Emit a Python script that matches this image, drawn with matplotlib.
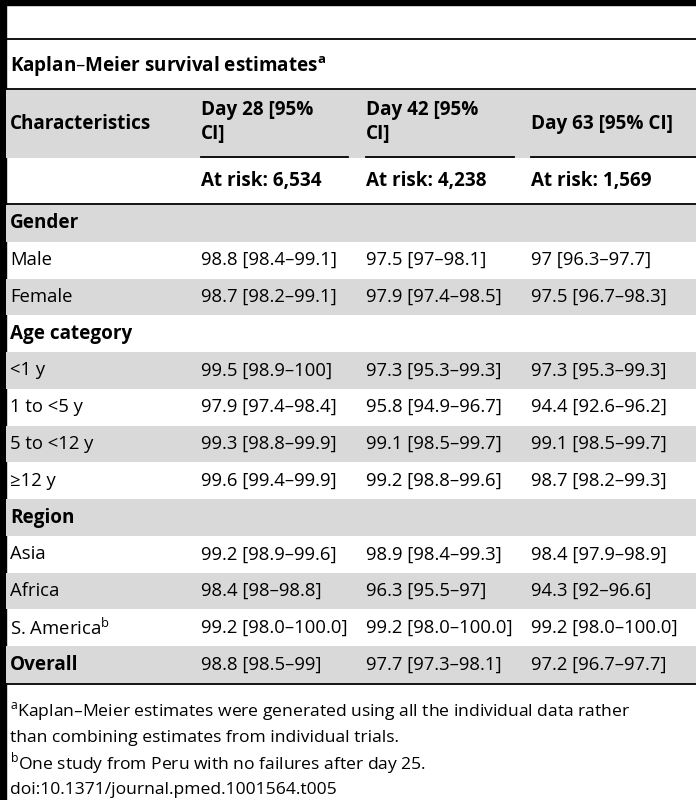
import matplotlib.pyplot as plt
from matplotlib.patches import Rectangle

plt.rcParams['font.family'] = ['Open Sans', 'DejaVu Sans']

title = 'Kaplan\u2013Meier survival estimates$^{\\mathregular{a}}$'
col_heads = ['Day 28 [95%\nCI]', 'Day 42 [95%\nCI]', 'Day 63 [95% CI]']
at_risk = ['At risk: 6,534', 'At risk: 4,238', 'At risk: 1,569']

# (label, is_group_header, day28, day42, day63)
rows = [
    ('Gender', True, '', '', ''),
    ('Male', False, '98.8 [98.4\u201399.1]', '97.5 [97\u201398.1]', '97 [96.3\u201397.7]'),
    ('Female', False, '98.7 [98.2\u201399.1]', '97.9 [97.4\u201398.5]', '97.5 [96.7\u201398.3]'),
    ('Age category', True, '', '', ''),
    ('<1 y', False, '99.5 [98.9\u2013100]', '97.3 [95.3\u201399.3]', '97.3 [95.3\u201399.3]'),
    ('1 to <5 y', False, '97.9 [97.4\u201398.4]', '95.8 [94.9\u201396.7]', '94.4 [92.6\u201396.2]'),
    ('5 to <12 y', False, '99.3 [98.8\u201399.9]', '99.1 [98.5\u201399.7]', '99.1 [98.5\u201399.7]'),
    ('\u226512 y', False, '99.6 [99.4\u201399.9]', '99.2 [98.8\u201399.6]', '98.7 [98.2\u201399.3]'),
    ('Region', True, '', '', ''),
    ('Asia', False, '99.2 [98.9\u201399.6]', '98.9 [98.4\u201399.3]', '98.4 [97.9\u201398.9]'),
    ('Africa', False, '98.4 [98\u201398.8]', '96.3 [95.5\u201397]', '94.3 [92\u201396.6]'),
    ('S. America$^{\\mathregular{b}}$', False, '99.2 [98.0\u2013100.0]', '99.2 [98.0\u2013100.0]', '99.2 [98.0\u2013100.0]'),
    ('Overall', True, '98.8 [98.5\u201399]', '97.7 [97.3\u201398.1]', '97.2 [96.7\u201397.7]'),
]
footnotes = [
    '$^{\\mathregular{a}}$Kaplan\u2013Meier estimates were generated using all the individual data rather',
    'than combining estimates from individual trials.',
    '$^{\\mathregular{b}}$One study from Peru with no failures after day 25.',
    'doi:10.1371/journal.pmed.1001564.t005',
]

W, H = 696, 800
GRAY = '#d9d9d9'
FS = 13.3    # body cells
FSB = 13.6   # bold headers
FSN = 12.6   # footnotes
col_x = [10, 201, 366, 531]
col_end = [None, 348, 514, 696]

fig = plt.figure(figsize=(W / 100, H / 100), dpi=100)
ax = fig.add_axes([0, 0, 1, 1])
ax.set_xlim(0, W)
ax.set_ylim(H, 0)
ax.axis('off')

# frame
ax.add_patch(Rectangle((0, 0), W, 5, color='black'))
ax.add_patch(Rectangle((0, 0), 6, H, color='black'))
ax.plot([6, W], [39, 39], color='black', lw=1.3)

ax.text(col_x[0], 67, title, fontsize=FSB, fontweight='bold', va='center')
ax.plot([6, W], [89, 89], color='black', lw=1.3)

# header
ax.add_patch(Rectangle((6, 90), W, 68, color=GRAY, lw=0))
ax.text(col_x[0], 124, 'Characteristics', fontsize=FSB, fontweight='bold', va='center')
for i, h in enumerate(col_heads):
    ax.text(col_x[i + 1], 124 if '\n' not in h else 122, h, fontsize=FSB, fontweight='bold',
            va='center', linespacing=1.3)
    ax.plot([col_x[i + 1], col_end[i + 1]], [157, 157], color='black', lw=1.3)
for i, h in enumerate(at_risk):
    ax.text(col_x[i + 1], 181, h, fontsize=FSB, fontweight='bold', va='center')
ax.plot([6, W], [204, 204], color='black', lw=1.3)

# body
row_h = (683 - 205) / len(rows)
for r, (label, bold, *vals) in enumerate(rows):
    y0 = 205 + r * row_h
    if r % 2 == 0:
        ax.add_patch(Rectangle((6, y0), W, row_h, color=GRAY, lw=0))
    yc = y0 + row_h / 2
    ax.text(col_x[0], yc, label, fontsize=FSB if bold else FS,
            fontweight='bold' if bold else 'normal', va='center')
    for i, v in enumerate(vals):
        ax.text(col_x[i + 1], yc, v, fontsize=FS, va='center')
ax.plot([6, W], [684, 684], color='black', lw=1.3)

for k, line in enumerate(footnotes):
    ax.text(col_x[0], 712 + k * 26, line, fontsize=FSN, va='center')

fig.savefig('out.png', dpi=100)
